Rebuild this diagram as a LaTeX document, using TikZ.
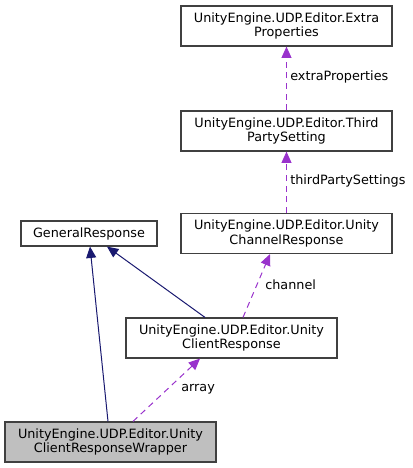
\documentclass[tikz,border=0pt]{standalone}
\usepackage{fontspec}
\setmainfont{DejaVu Sans}
\usetikzlibrary{arrows.meta,calc}
\definecolor{edgegray}{RGB}{64,64,64}
\definecolor{navyline}{RGB}{25,25,112}
\definecolor{purpline}{RGB}{153,50,204}
\definecolor{curfill}{RGB}{191,191,191}
\tikzset{
  cls/.style={draw=edgegray, line width=0.9pt, fill=white, align=center, inner sep=0pt,
    minimum width=158.25pt, minimum height=30pt, font=\fontsize{9.6pt}{10.6pt}\selectfont},
  inh/.style={draw=navyline, line width=0.75pt, -{Triangle[length=8.5pt,width=7.5pt]}},
  usage/.style={draw=purpline, line width=0.75pt, dash pattern=on 4.5pt off 3.5pt,
    -{Triangle[length=8.5pt,width=7.5pt]}},
  lbl/.style={anchor=west, inner sep=0pt, font=\fontsize{9.6pt}{10.6pt}\selectfont}
}
\begin{document}
\begin{tikzpicture}[x=0.75pt,y=-0.75pt]
\useasboundingbox (0,0) rectangle (413,468);
\node[cls] (extra) at (286.5,26) {UnityEngine.UDP.Editor.Extra\\Properties};
\node[cls] (third) at (286.5,131) {UnityEngine.UDP.Editor.Third\\PartySetting};
\node[cls] (chan) at (286.5,233.5) {UnityEngine.UDP.Editor.Unity\\ChannelResponse};
\node[cls, minimum width=102pt, minimum height=18.75pt] (gen) at (89,233.5) {GeneralResponse};
\node[cls] (client) at (231.5,338) {UnityEngine.UDP.Editor.Unity\\ClientResponse};
\node[cls, fill=curfill] (wrap) at (110.5,442) {UnityEngine.UDP.Editor.Unity\\ClientResponseWrapper};

\draw[inh] ($(wrap.north)+(-2.5,0)$) -- ($(gen.south)+(1,0)$);
\draw[inh] ($(client.north)+(-26.5,0)$) -- ($(gen.south)+(18,0)$);
\draw[usage] (third.north) -- (extra.south);
\draw[usage] (chan.north) -- (third.south);
\draw[usage] ($(client.north)+(11.5,0)$) -- ($(chan.south)+(-16.5,0)$);
\draw[usage] ($(wrap.north)+(22.5,0)$) -- ($(client.south)+(-31.5,0)$);

\node[lbl] (l1) at (290,77) {extraProperties};
\node[lbl] (l2) at (290,181) {thirdPartySettings};
\node[lbl] (l3) at (265,285) {channel};
\node[lbl] (l4) at (181,389) {array};
\end{tikzpicture}
\end{document}
